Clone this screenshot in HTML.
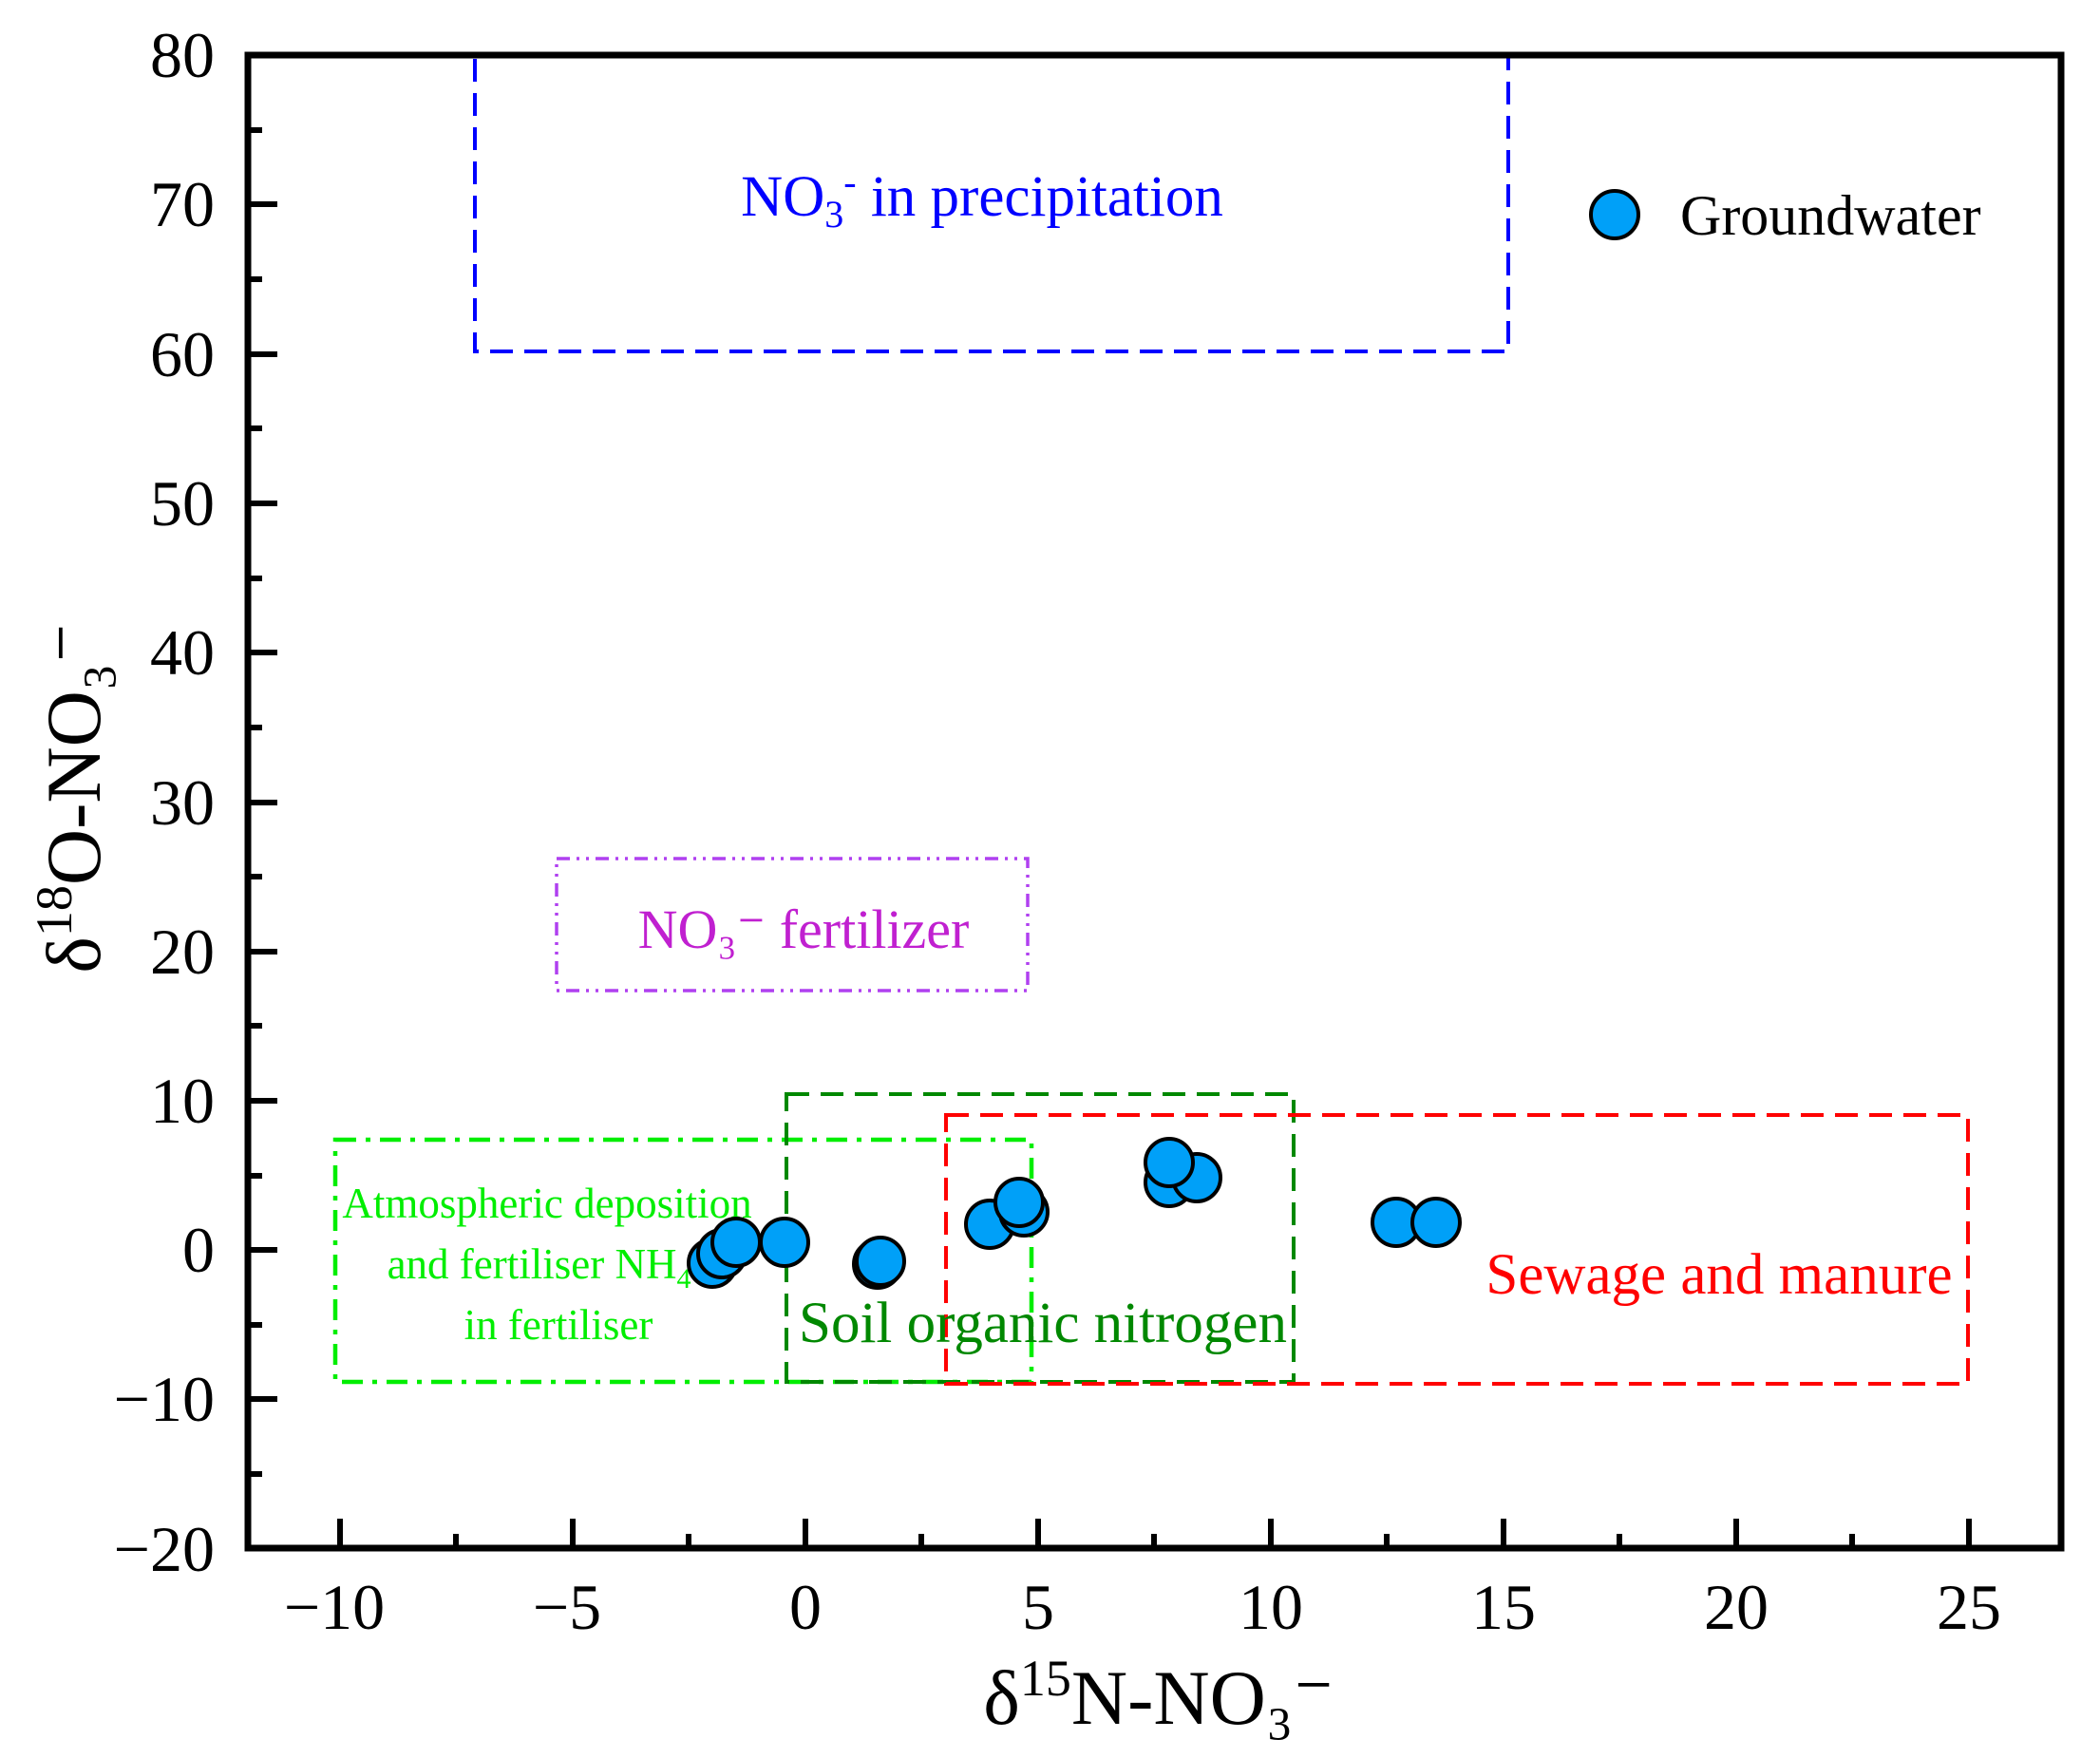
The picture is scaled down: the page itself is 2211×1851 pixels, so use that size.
<!DOCTYPE html>
<html><head><meta charset="utf-8"><style>html,body{margin:0;padding:0;background:#fff}svg{display:block}text{font-family:"Liberation Serif",serif}</style></head>
<body>
<svg width="2211" height="1851" viewBox="0 0 2211 1851" xmlns="http://www.w3.org/2000/svg">
<rect x="500" y="58" width="1088" height="312" fill="none" stroke="#0000ff" stroke-width="4" stroke-dasharray="24,12"/>
<rect x="586" y="904" width="496" height="139" fill="none" stroke="#b040f0" stroke-width="3.5" stroke-dasharray="14,7,3,7,3,7"/>
<rect x="353" y="1200" width="733" height="255" fill="none" stroke="#00ee00" stroke-width="4.5" stroke-dasharray="22,10,5,10"/>
<rect x="828" y="1152" width="534" height="303" fill="none" stroke="#008800" stroke-width="4" stroke-dasharray="24,12"/>
<rect x="996" y="1174" width="1076" height="283" fill="none" stroke="#ff0000" stroke-width="4" stroke-dasharray="24,12"/>
<text x="1034" y="227" font-size="61" fill="#0000ff" text-anchor="middle">NO<tspan font-size="40" dy="12">3</tspan><tspan font-size="40" dy="-34">-</tspan><tspan dy="22"> in precipitation</tspan></text>
<text x="846" y="998" font-size="58" fill="#c020d0" text-anchor="middle">NO₃⁻ fertilizer</text>
<text font-size="45" fill="#00ee00" text-anchor="middle"><tspan x="576" y="1282">Atmospheric deposition</tspan><tspan x="576" y="1346">and fertiliser NH<tspan font-size="30" dy="10">4</tspan><tspan font-size="30" dy="-24">+</tspan></tspan><tspan x="588" y="1410">in fertiliser</tspan></text>
<text x="1098" y="1413" font-size="61" fill="#008800" text-anchor="middle">Soil organic nitrogen</text>
<text x="1810" y="1362" font-size="61" fill="#ff0000" text-anchor="middle">Sewage and manure</text>
<g fill="#00a0f8" stroke="#000" stroke-width="4">
<circle cx="750" cy="1330" r="25"/>
<circle cx="760" cy="1320" r="25"/>
<circle cx="775" cy="1308" r="25"/>
<circle cx="826" cy="1308" r="25"/>
<circle cx="924" cy="1331" r="25"/>
<circle cx="927" cy="1328" r="25"/>
<circle cx="1042" cy="1289" r="25"/>
<circle cx="1078" cy="1276" r="25"/>
<circle cx="1073" cy="1266" r="25"/>
<circle cx="1231" cy="1245" r="25"/>
<circle cx="1260" cy="1240" r="25"/>
<circle cx="1231" cy="1224" r="25"/>
<circle cx="1470" cy="1287" r="25"/>
<circle cx="1512" cy="1287" r="25"/>
</g>
<circle cx="1700" cy="226" r="25" fill="#00a0f8" stroke="#000" stroke-width="4"/>
<text x="1769" y="247" font-size="60" fill="#000">Groundwater</text>
<rect x="261" y="58" width="1909" height="1572" fill="none" stroke="#000" stroke-width="7"/>
<g stroke="#000" stroke-width="6">
<line x1="261" y1="215" x2="292" y2="215"/><line x1="261" y1="373" x2="292" y2="373"/>
<line x1="261" y1="530" x2="292" y2="530"/><line x1="261" y1="687" x2="292" y2="687"/>
<line x1="261" y1="845" x2="292" y2="845"/><line x1="261" y1="1002" x2="292" y2="1002"/>
<line x1="261" y1="1159" x2="292" y2="1159"/><line x1="261" y1="1316" x2="292" y2="1316"/>
<line x1="261" y1="1473" x2="292" y2="1473"/>
<line x1="261" y1="137" x2="276" y2="137"/><line x1="261" y1="294" x2="276" y2="294"/>
<line x1="261" y1="451" x2="276" y2="451"/><line x1="261" y1="609" x2="276" y2="609"/>
<line x1="261" y1="766" x2="276" y2="766"/><line x1="261" y1="923" x2="276" y2="923"/>
<line x1="261" y1="1080" x2="276" y2="1080"/><line x1="261" y1="1238" x2="276" y2="1238"/>
<line x1="261" y1="1395" x2="276" y2="1395"/><line x1="261" y1="1552" x2="276" y2="1552"/>
<line x1="358" y1="1630" x2="358" y2="1599"/><line x1="603" y1="1630" x2="603" y2="1599"/>
<line x1="848" y1="1630" x2="848" y2="1599"/><line x1="1093" y1="1630" x2="1093" y2="1599"/>
<line x1="1338" y1="1630" x2="1338" y2="1599"/><line x1="1583" y1="1630" x2="1583" y2="1599"/>
<line x1="1828" y1="1630" x2="1828" y2="1599"/><line x1="2073" y1="1630" x2="2073" y2="1599"/>
<line x1="480" y1="1630" x2="480" y2="1615"/><line x1="725" y1="1630" x2="725" y2="1615"/>
<line x1="970" y1="1630" x2="970" y2="1615"/><line x1="1215" y1="1630" x2="1215" y2="1615"/>
<line x1="1460" y1="1630" x2="1460" y2="1615"/><line x1="1705" y1="1630" x2="1705" y2="1615"/>
<line x1="1950" y1="1630" x2="1950" y2="1615"/>
</g>
<g font-size="68" fill="#000" text-anchor="end">
<text x="226" y="81">80</text><text x="226" y="238">70</text><text x="226" y="396">60</text>
<text x="226" y="553">50</text><text x="226" y="710">40</text><text x="226" y="868">30</text>
<text x="226" y="1025">20</text><text x="226" y="1182">10</text><text x="226" y="1339">0</text>
<text x="226" y="1496">−10</text><text x="226" y="1654">−20</text>
</g>
<g font-size="68" fill="#000" text-anchor="middle">
<text x="352" y="1715">−10</text><text x="597" y="1715">−5</text><text x="848" y="1715">0</text>
<text x="1093" y="1715">5</text><text x="1338" y="1715">10</text><text x="1583" y="1715">15</text>
<text x="1828" y="1715">20</text><text x="2073" y="1715">25</text>
</g>
<text x="1220" y="1815" font-size="82" fill="#000" text-anchor="middle">δ<tspan font-size="54" dy="-30">15</tspan><tspan dy="30">N-NO₃⁻</tspan></text>
<text transform="translate(105,840) rotate(-90)" font-size="82" fill="#000" text-anchor="middle">δ<tspan font-size="54" dy="-30">18</tspan><tspan dy="30">O-NO₃⁻</tspan></text>
</svg>
</body></html>
